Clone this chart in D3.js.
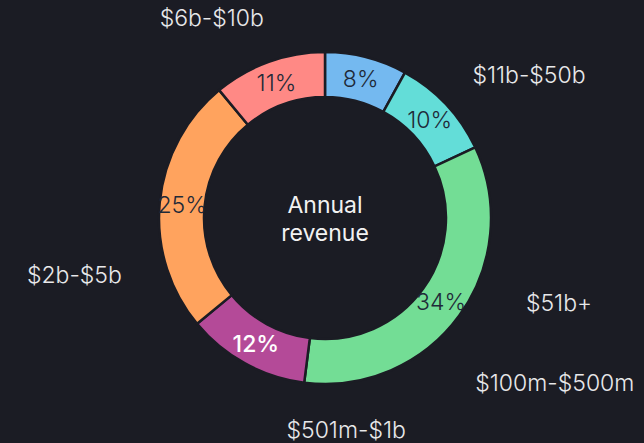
<!DOCTYPE html>
<html>
<head>
<meta charset="utf-8">
<script src="https://cdn.jsdelivr.net/npm/d3@7"></script>
<style>
	html, body { margin: 0; padding: 0; background: #1b1c24; }
	svg { display: block; font-family: Inter, "Noto Sans", sans-serif; font-weight: 300; }
</style>
</head>
<body>
<div class="chart"></div>
<script>
// data, clockwise from 12 o'clock
const categories = ["$11b-$50b", "$51b+", "$100m-$500m", "$501m-$1b", "$2b-$5b", "$6b-$10b"];
const shares = [8, 10, 34, 12, 25, 11];
const colors = ["#74b9f0", "#63ddd8", "#73dd95", "#b44a98", "#ffa35e", "#ff8985"];
const valueTextColors = ["#1f2a38", "#1f2a38", "#1f2a38", "#ffffff", "#1f2a38", "#1f2a38"];
const centerTitle = ["Annual", "revenue"];

// where the category names sit: angle shift from slice middle (deg), distance from centre
const labelShift = [40.6, 63.2, -0.3, -34.5, -18.2, -9.7];
const labelDist = [249, 249, 283, 213, 257, 230];

var w = 644,
	h = 443,
	cx = 325,
	cy = 218,
	outerR = 166,
	innerR = 121;

const svg = d3.select(".chart").append("svg").attr("width", w).attr("height", h);

svg.append("rect").attr("width", w).attr("height", h).attr("fill", "#1b1c24");

const g = svg.append("g").attr("transform", "translate(" + cx + "," + cy + ")");

const pie = d3.pie().sort(null).value((d) => d.v);
const arcs = pie(categories.map((c, i) => ({ c: c, v: shares[i], i: i })));

const arc = d3.arc().innerRadius(innerR).outerRadius(outerR);

g.selectAll("path.slice")
	.data(arcs)
	.enter()
	.append("path")
	.attr("class", "slice")
	.attr("d", arc)
	.attr("fill", (d) => colors[d.data.i])
	.attr("stroke", "#1b1c24")
	.attr("stroke-width", 2.5);

g.selectAll("text.pct")
	.data(arcs)
	.enter()
	.append("text")
	.attr("class", "pct")
	.attr("x", (d) => arc.centroid(d)[0])
	.attr("y", (d) => arc.centroid(d)[1])
	.attr("text-anchor", "middle")
	.attr("dominant-baseline", "central")
	.attr("font-size", 23)
	.attr("fill", (d) => valueTextColors[d.data.i])
	.attr("font-weight", (d) => (d.data.i === 3 ? 500 : 300))
	.text((d) => d.data.v + "%");

g.selectAll("text.cat")
	.data(arcs)
	.enter()
	.append("text")
	.attr("class", "cat")
	.each(function (d) {
		const a = (d.startAngle + d.endAngle) / 2 + (labelShift[d.data.i] * Math.PI) / 180;
		const r = labelDist[d.data.i];
		d3.select(this)
			.attr("x", r * Math.sin(a))
			.attr("y", -r * Math.cos(a));
	})
	.attr("text-anchor", "middle")
	.attr("dominant-baseline", "central")
	.attr("font-size", 23)
	.attr("fill", "#e8e8ea")
	.text((d) => d.data.c);

g.append("text")
	.attr("text-anchor", "middle")
	.attr("font-size", 23)
	.attr("font-weight", 400)
	.attr("fill", "#f2f2f2")
	.selectAll("tspan")
	.data(centerTitle)
	.enter()
	.append("tspan")
	.attr("x", 0)
	.attr("y", (d, i) => -13 + i * 28)
	.attr("dominant-baseline", "central")
	.text((d) => d);
</script>
</body>
</html>
